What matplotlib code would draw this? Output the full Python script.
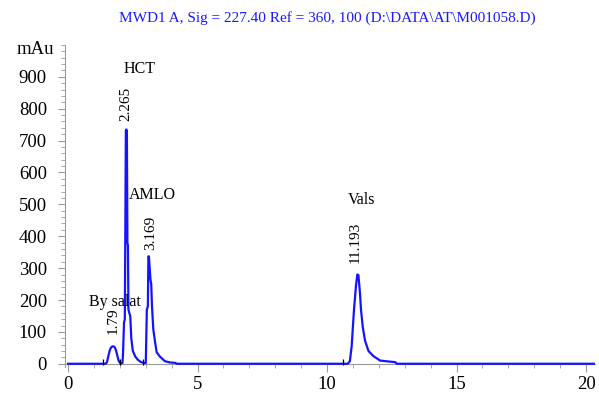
import matplotlib.pyplot as plt
from matplotlib.ticker import MultipleLocator

plt.rcParams['font.family'] = ['Liberation Serif', 'DejaVu Serif']

# chromatogram trace (min, mAu)
time = [0.0, 1.45, 1.50, 1.55, 1.60, 1.65, 1.70, 1.75, 1.80, 1.85, 1.90, 1.95, 2.00,
        2.05, 2.10, 2.12, 2.16, 2.19, 2.21, 2.23, 2.25, 2.27, 2.29, 2.31, 2.33, 2.36,
        2.40, 2.44, 2.50, 2.60, 2.70, 2.80, 2.90, 3.00, 3.04, 3.08, 3.10, 3.12, 3.15,
        3.18, 3.21, 3.24, 3.29, 3.36, 3.42, 3.55, 3.74, 3.94, 4.13, 4.20,
        10.80, 10.88, 10.95, 11.04, 11.12, 11.17, 11.21, 11.27, 11.31, 11.38, 11.47,
        11.60, 11.79, 12.05, 12.63, 12.70, 20.3]
signal = [0, 0, 5, 22, 40, 50, 54, 55, 52, 42, 26, 10, 3,
          1, 3, 30, 130, 140, 420, 732, 735, 730, 380, 370, 170, 160,
          150, 80, 40, 22, 12, 6, 3, 2, 170, 180, 337, 337, 300,
          264, 250, 180, 108, 67, 36, 22, 8, 4, 3, 0,
          0, 8, 55, 170, 248, 280, 278, 223, 170, 114, 71,
          40, 24, 10, 5, 0, 0]

# integration baseline markers
marks = [1.34, 2.00, 2.90, 10.63]

# peak annotations
names = ["By salat", "HCT", "AMLO", "Vals"]
name_x = [1.82, 2.78, 3.25, 11.35]
name_y = [170, 900, 503, 490]
rt_text = ["1.79", "2.265", "3.169", "11.193"]
rt_x = [1.75, 2.23, 3.17, 11.08]
rt_y = [92, 762, 356, 315]

fig = plt.figure(figsize=(5.99, 3.98), dpi=100)
ax = fig.add_axes([0.1085, 0.078, 0.885, 0.809])

ax.plot(time, signal, color='#1414ff', lw=1.6, zorder=3)
ax.vlines(marks, -4, 14, color='black', lw=0.9, zorder=4)

for n, x, y in zip(names, name_x, name_y):
    ax.text(x, y, n, ha='center', va='bottom', fontsize=11.5)
for r, x, y in zip(rt_text, rt_x, rt_y):
    ax.text(x, y, r, rotation=90, ha='center', va='bottom', fontsize=11)

ax.set_xlim(-0.12, 20.35)
ax.set_ylim(-10, 1000)

for s in ['top', 'right']:
    ax.spines[s].set_visible(False)
ax.spines['bottom'].set_position(('data', 0))
ax.spines['bottom'].set_color('#9a9a9a')
ax.spines['left'].set_color('#9a9a9a')

ax.set_xticks([0, 5, 10, 15, 20])
ax.xaxis.set_minor_locator(MultipleLocator(1))
ax.set_yticks(range(0, 1000, 100))
ax.yaxis.set_minor_locator(MultipleLocator(20))
ax.tick_params(axis='x', which='major', direction='out', length=6, color='#9a9a9a',
               labelsize=13.5, pad=3)
ax.tick_params(axis='x', which='minor', direction='out', length=3, color='#9a9a9a')
ax.tick_params(axis='y', which='major', direction='out', length=5, color='#9a9a9a',
               labelsize=13.5, pad=8)
ax.tick_params(axis='y', which='minor', direction='out', length=3, color='#9a9a9a')

ax.annotate("mAu", xy=(0, 1), xycoords='axes fraction', xytext=(-8, -3),
            textcoords='offset points', ha='right', va='center', fontsize=13.5)

fig.text(0.546, 0.955, "MWD1 A, Sig = 227.40 Ref = 360, 100 (D:\\DATA\\AT\\M001058.D)",
         color='#1a1aff', ha='center', va='center', fontsize=11)

fig.savefig("out.png", dpi=100)
